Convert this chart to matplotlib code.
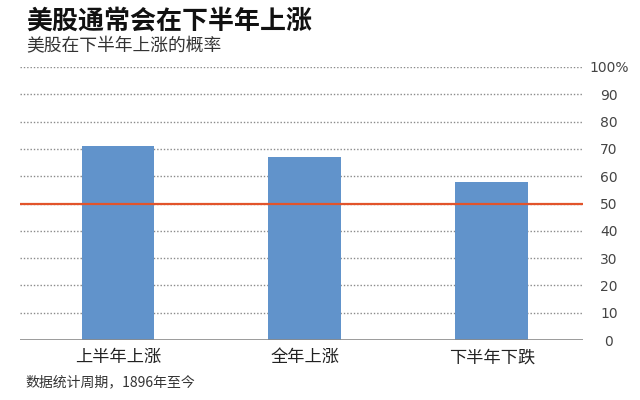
import matplotlib
matplotlib.use("Agg")
import matplotlib.pyplot as plt

plt.rcParams['font.family'] = ['Noto Sans CJK SC', 'DejaVu Sans']

categories = ["上半年上涨", "全年上涨", "下半年下跌"]
values = [71, 67, 58]
yticks = [0, 10, 20, 30, 40, 50, 60, 70, 80, 90, 100]
ytick_labels = ["0", "10", "20", "30", "40", "50", "60", "70", "80", "90", "100%"]
ref_value = 50

title = "美股通常会在下半年上涨"
subtitle = "美股在下半年上涨的概率"
footnote = "数据统计周期，1896年至今"

fig = plt.figure(figsize=(6.4, 4.0), dpi=100)
ax = fig.add_axes([20/640, 1-340/400, (583-20)/640, (340-67)/400])

x = list(range(len(categories)))
ax.bar(x, values, width=0.39, color="#6193cb", zorder=3)
ax.set_xlim(-0.524, 2.487)
ax.set_ylim(0, 100)

for t in yticks[1:]:
    ax.axhline(t, color="#8a8a8a", lw=1.0, ls=(0, (1, 1.4)), zorder=1)
ax.axhline(0, color="#8a8a8a", lw=1.2, zorder=4)
ax.axhline(ref_value, color="#e2542b", lw=1.6, zorder=5)

for s in ax.spines.values():
    s.set_visible(False)

ax.yaxis.tick_right()
ax.set_yticks(yticks)
ax.set_yticklabels(ytick_labels, fontsize=10, color="#444444", ha="center",
                   family="DejaVu Sans")
ax.tick_params(axis="y", length=0, pad=18.7)
ax.set_xticks(x)
ax.set_xticklabels(categories, fontsize=12.4, color="#222222")
ax.tick_params(axis="x", length=0, pad=6)

fig.text(26/640, 1-21/400, title, fontsize=18.7, fontweight="bold", color="#111111", va="center", ha="left")
fig.text(26/640, 1-46/400, subtitle, fontsize=12.8, color="#333333", va="center", ha="left")
fig.text(25/640, 1-382/400, footnote, fontsize=10, color="#333333", va="center", ha="left")

fig.savefig("out.png", dpi=100, facecolor="white")
